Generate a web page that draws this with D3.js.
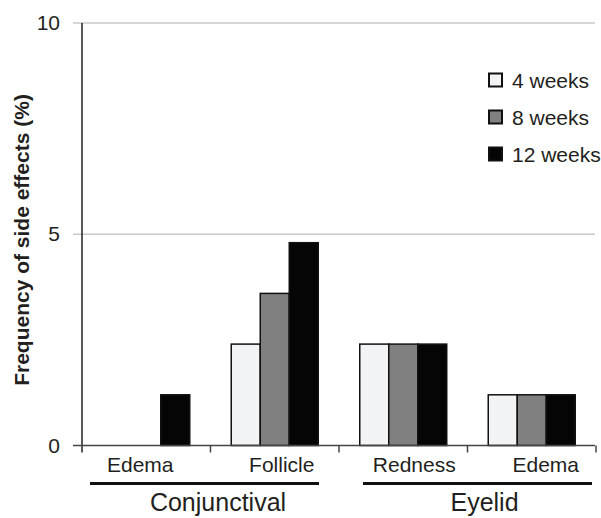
<!DOCTYPE html>
<html>
<head>
<meta charset="utf-8">
<script src="https://cdn.jsdelivr.net/npm/d3@7"></script>
<style>
  html, body { margin: 0; padding: 0; background: #fff; }
  svg { display: block; font-family: "Liberation Sans", Arial, sans-serif; }
</style>
</head>
<body>
<svg id="chart" width="601" height="518"></svg>
<script>
const categories = ["Edema", "Follicle", "Redness", "Edema"];
const groups = ["Conjunctival", "Eyelid"];
const groupOf = [0, 0, 1, 1];
const seriesNames = ["4 weeks", "8 weeks", "12 weeks"];
const weeks4 = [0, 2.4, 2.4, 1.2];
const weeks8 = [0, 3.6, 2.4, 1.2];
const weeks12 = [1.2, 4.8, 2.4, 1.2];
const yTicks = [0, 5, 10];
const seriesColors = ["#f2f3f5", "#808080", "#050505"];

const series = [weeks4, weeks8, weeks12];
const svg = d3.select("#chart");
const textColor = "#231f20";

const x0 = d3.scaleBand().domain(d3.range(categories.length)).range([82, 596]).paddingInner(0).paddingOuter(0);
const x1 = d3.scaleBand().domain(d3.range(seriesNames.length)).range([-43.5, 43.5]).padding(0);
const y = d3.scaleLinear().domain([0, 10]).range([445.5, 23]);

// gridlines
svg.append("g").selectAll("line").data(yTicks.filter(d => d > 0)).join("line")
  .attr("x1", 73).attr("x2", 595)
  .attr("y1", d => y(d)).attr("y2", d => y(d))
  .attr("stroke", "#c8c8c8").attr("stroke-width", 1.5);

// y axis
const yAxis = svg.append("g").attr("transform", "translate(82,0)")
  .call(d3.axisLeft(y).tickValues(yTicks).tickSize(0).tickPadding(22));
yAxis.select(".domain").remove();
yAxis.selectAll("text").attr("font-size", 21).attr("fill", textColor)
  .attr("font-family", "Liberation Sans, Arial, sans-serif");
svg.append("line").attr("x1", 82).attr("x2", 82).attr("y1", y(10)).attr("y2", y(0) + 7)
  .attr("stroke", "#222").attr("stroke-width", 1.5);

// bars
const gCat = svg.append("g").selectAll("g").data(categories).join("g")
  .attr("transform", (d, i) => `translate(${x0(i) + x0.bandwidth() / 2},0)`);
gCat.selectAll("rect")
  .data((d, i) => series.map((s, k) => ({ k, v: s[i] })).filter(o => o.v > 0))
  .join("rect")
  .attr("x", o => x1(o.k))
  .attr("width", x1.bandwidth())
  .attr("y", o => y(o.v))
  .attr("height", o => y(0) - y(o.v))
  .attr("fill", o => seriesColors[o.k])
  .attr("stroke", "#111").attr("stroke-width", 1.5);

// x axis
svg.append("line").attr("x1", 73).attr("x2", 595).attr("y1", y(0)).attr("y2", y(0))
  .attr("stroke", "#444").attr("stroke-width", 1.5);
svg.append("g").selectAll("line").data(d3.range(1, categories.length + 1)).join("line")
  .attr("x1", i => x0(i - 1) + x0.bandwidth()).attr("x2", i => x0(i - 1) + x0.bandwidth())
  .attr("y1", y(0)).attr("y2", y(0) + 7)
  .attr("stroke", "#444").attr("stroke-width", 1.5);

// category labels
const labelShift = [-6, 7, 11, 14];
svg.append("g").selectAll("text").data(categories).join("text")
  .attr("x", (d, i) => x0(i) + x0.bandwidth() / 2 + labelShift[i])
  .attr("y", 472)
  .attr("text-anchor", "middle")
  .attr("font-size", 21)
  .attr("fill", textColor)
  .text(d => d);

// group lines and labels
const insets = [[8, 20], [24, 4]];
const textShift = [7.5, 17];
const groupSpan = groups.map((g, gi) => {
  const idx = d3.range(categories.length).filter(i => groupOf[i] === gi);
  return { g, gi, a: x0(idx[0]), b: x0(idx[idx.length - 1]) + x0.bandwidth() };
});
svg.append("g").selectAll("line").data(groupSpan).join("line")
  .attr("x1", d => d.a + insets[d.gi][0]).attr("x2", d => d.b - insets[d.gi][1])
  .attr("y1", 483.5).attr("y2", 483.5)
  .attr("stroke", "#111").attr("stroke-width", 2.8);
svg.append("g").selectAll("text").data(groupSpan).join("text")
  .attr("x", d => (d.a + d.b) / 2 + textShift[d.gi])
  .attr("y", 511)
  .attr("text-anchor", "middle")
  .attr("font-size", 25)
  .attr("fill", textColor)
  .text(d => d.g);

// y title
svg.append("text")
  .attr("transform", `translate(29,240) rotate(-90)`)
  .attr("text-anchor", "middle")
  .attr("font-size", 21)
  .attr("font-weight", "bold")
  .attr("fill", textColor)
  .text("Frequency of side effects (%)");

// legend
const legend = svg.append("g").selectAll("g").data(seriesNames).join("g")
  .attr("transform", (d, i) => `translate(489,${80 + i * 37})`);
legend.append("rect")
  .attr("x", 0).attr("y", -6.5).attr("width", 13).attr("height", 13)
  .attr("fill", (d, i) => seriesColors[i])
  .attr("stroke", "#111").attr("stroke-width", 2);
legend.append("text")
  .attr("x", 23).attr("y", 7.5)
  .attr("font-size", 21)
  .attr("fill", textColor)
  .text(d => d);
</script>
</body>
</html>
